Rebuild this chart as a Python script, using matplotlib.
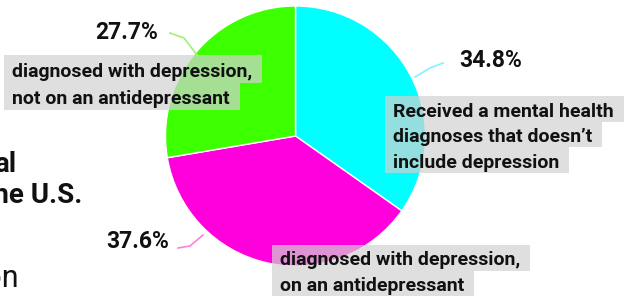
import matplotlib
matplotlib.use("Agg")
import matplotlib.pyplot as plt
from matplotlib.patches import Rectangle

# ---- data ----
categories = [
    "Received a mental health\ndiagnoses that doesn\u2019t\ninclude depression",
    "diagnosed with depression,\non an antidepressant",
    "diagnosed with depression,\nnot on an antidepressant",
]
values = [34.8, 37.6, 27.7]
pct_labels = ["34.8%", "37.6%", "27.7%"]
colors = ["#00FFFF", "#FF00DC", "#3CFF00"]
line_colors = ["#7FF4FF", "#FF80DF", "#A0F07A"]

W, H = 628, 297
fig = plt.figure(figsize=(W / 100, H / 100), dpi=100)
fig.patch.set_facecolor("white")

FONT = ["Roboto", "DejaVu Sans"]

def fx(x):
    return x / W

def fy(y):
    return 1 - y / H

# ---- pie ----
cx, cy, r = 295.5, 136, 130
ax = fig.add_axes([fx(cx - r), fy(cy + r), 2 * r / W, 2 * r / H])
ax.pie(values, colors=colors, startangle=90, counterclock=False,
       wedgeprops=dict(edgecolor="white", linewidth=1.0), radius=1)
ax.set_xlim(-1, 1)
ax.set_ylim(-1, 1)
ax.set_aspect("auto")
ax.axis("off")

# ---- left cut-off title fragments ----
fig.text(fx(16), fy(172), "al", ha="right", va="baseline", fontsize=20,
         fontweight="bold", family=FONT, color="#111111")
fig.text(fx(82), fy(203), "the U.S.", ha="right", va="baseline", fontsize=20,
         fontweight="bold", family=FONT, color="#111111")
fig.text(fx(19), fy(287), "ion", ha="right", va="baseline", fontsize=22,
         family=FONT, color="#111111")

# ---- percentage labels ----
pct_pos = [(491, 67), (138, 248), (127, 39)]
for s, (x, y) in zip(pct_labels, pct_pos):
    fig.text(fx(x), fy(y), s, ha="center", va="baseline", fontsize=16.5,
             fontweight="bold", family=FONT, color="#111111", zorder=5)

# ---- leader lines ----
leaders = [
    [(443, 63), (430, 68), (415, 77)],
    [(178, 248), (190, 246), (203, 235)],
    [(170, 33), (184, 38), (197, 55)],
]
for pts, c in zip(leaders, line_colors):
    fig.add_artist(plt.Line2D([fx(p[0]) for p in pts], [fy(p[1]) for p in pts],
                              color=c, lw=1.2, transform=fig.transFigure, zorder=4))

# ---- category label boxes (per-line backgrounds) ----
# (left x of box, top y of box, row height)
box_layout = [(385, 96, 25.7), (272, 245, 25.5), (4, 55, 27.5)]
pad_l, pad_r = 8, 10
fig.canvas.draw()
renderer = fig.canvas.get_renderer()
for label, (bx, by, rh) in zip(categories, box_layout):
    for i, line in enumerate(label.split("\n")):
        top = by + i * rh
        base = top + rh * 0.8
        t = fig.text(fx(bx + pad_l), fy(base), line, ha="left",
                     va="baseline", fontsize=14, fontweight="bold",
                     family=FONT, color="#111111", zorder=6)
        bb = t.get_window_extent(renderer)
        wbox = bb.width + pad_l + pad_r
        fig.add_artist(Rectangle((fx(bx), fy(top + rh)), wbox / W, rh / H,
                                 transform=fig.transFigure, facecolor="#D2D2D2",
                                 alpha=0.7, edgecolor="none", zorder=5))

fig.savefig("out.png", dpi=100, facecolor="white")
